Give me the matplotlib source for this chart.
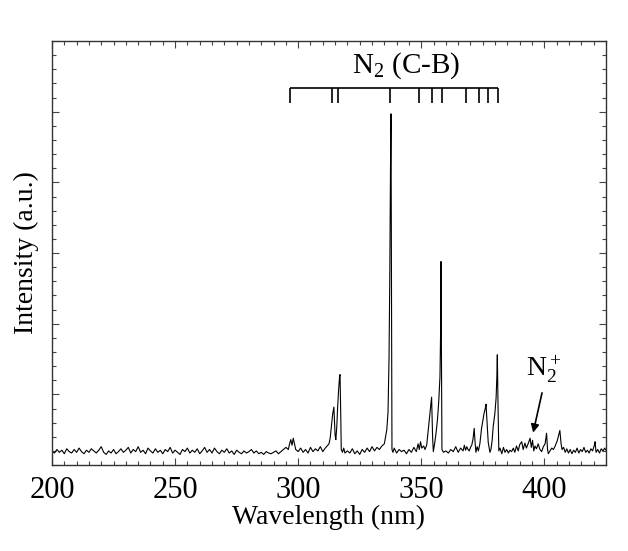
import numpy as np
import matplotlib.pyplot as plt
from matplotlib.ticker import MultipleLocator

plt.rcParams['font.family'] = ['Liberation Serif', 'DejaVu Serif']
plt.rcParams['mathtext.fontset'] = 'custom'
plt.rcParams['mathtext.rm'] = 'Liberation Serif'
plt.rcParams['mathtext.it'] = 'Liberation Serif:italic'

# baseline 200-295 nm, 1 nm step
base_wl = np.arange(200, 296, 1.0)
base_int = [0.20, 0.17, 0.22, 0.18, 0.21, 0.16, 0.23, 0.19, 0.17, 0.22,
            0.18, 0.24, 0.19, 0.16, 0.21, 0.18, 0.23, 0.20, 0.17, 0.21,
            0.26, 0.18, 0.15, 0.20, 0.17, 0.22, 0.16, 0.19, 0.23, 0.18,
            0.21, 0.25, 0.17, 0.22, 0.19, 0.26, 0.18, 0.21, 0.16, 0.24,
            0.20, 0.17, 0.23, 0.18, 0.21, 0.16, 0.22, 0.19, 0.25, 0.17,
            0.21, 0.18, 0.15, 0.22, 0.19, 0.24, 0.17, 0.21, 0.18, 0.23,
            0.16, 0.20, 0.25, 0.18, 0.22, 0.17, 0.24, 0.19, 0.16, 0.21,
            0.18, 0.23, 0.17, 0.20, 0.15, 0.21, 0.18, 0.16, 0.20, 0.17,
            0.19, 0.22, 0.17, 0.20, 0.16, 0.18, 0.15, 0.19, 0.17, 0.16,
            0.18, 0.20, 0.16, 0.19, 0.22, 0.25]

# band region 296-425 nm
band_wl = [296.0, 296.5, 297.0, 297.5, 298.0, 298.5, 299.0, 300, 301, 302,
           303, 304, 305, 306, 307, 308, 309, 310, 311, 312,
           312.5, 313.0, 313.5, 314.0, 314.5, 315.0, 315.3, 315.7, 316.0, 316.4,
           316.8, 317.0, 317.3, 317.5, 318.0, 318.5,
           319, 320, 321, 322, 323, 324, 325, 326, 327, 328,
           329, 330, 331, 332, 333, 334, 335, 336.0, 336.5, 336.9,
           337.2, 337.5, 337.7, 338.1, 338.5,
           339, 340, 341, 342, 343, 344, 345, 346, 347, 348,
           348.7, 349.2, 349.7, 350.2, 351.0, 351.5, 352.2, 352.7, 353.2, 353.7,
           354.2, 354.6, 354.9, 355.5, 356.0, 356.6, 357.1, 357.6, 357.9, 358.0,
           358.2, 358.4,
           359, 360, 361, 362, 363, 364, 365, 366, 367, 367.5, 368, 368.5,
           369, 369.5, 370, 370.5, 371.0, 371.5, 371.9, 372.2, 372.7, 373.2,
           373.8, 374.5, 375.0, 375.5, 376.0, 376.3, 376.8, 377.2, 377.9,
           378.3, 378.8, 379.2, 379.9, 380.4, 380.7, 380.9, 381.2, 381.5,
           382.0, 382.7, 383.4, 384.0, 384.7, 385.4, 386.0, 386.7, 387.4, 388.0,
           388.7, 389.4, 390.0, 390.8, 391.4, 392.1, 392.7, 393.4, 394.2, 394.7,
           395.2, 395.7, 396.2, 396.8, 397.5, 398.2, 398.9, 399.6, 400.3, 400.9,
           401.3, 401.6, 402.3, 403.0, 403.7, 404.4, 405.2, 405.8, 406.3, 406.8,
           407.2, 407.8, 408.5, 409.1, 409.8, 410.5, 411.2, 411.9, 412.6, 413.3,
           414.0, 414.7, 415.4, 416.1, 416.8, 417.5, 418.2, 418.9, 419.6, 420.3,
           420.6, 421.0, 421.7, 422.4, 423.1, 423.8, 424.5, 425.0]
band_int = [0.22, 0.30, 0.36, 0.28, 0.38, 0.30, 0.22, 0.19, 0.24, 0.18,
            0.22, 0.17, 0.25, 0.19, 0.23, 0.20, 0.26, 0.19, 0.24, 0.28,
            0.30, 0.38, 0.55, 0.72, 0.82, 0.42, 0.36, 0.55, 0.80, 1.05,
            1.25, 1.28, 0.70, 0.22, 0.18, 0.24,
            0.17, 0.20, 0.17, 0.23, 0.16, 0.20, 0.15, 0.22, 0.18, 0.24,
            0.19, 0.26, 0.20, 0.25, 0.22, 0.27, 0.30, 0.50, 0.75, 1.50,
            2.60, 4.20, 4.97, 0.22, 0.18,
            0.24, 0.17, 0.22, 0.19, 0.21, 0.16, 0.22, 0.18, 0.25, 0.19,
            0.30, 0.22, 0.33, 0.24, 0.27, 0.22, 0.28, 0.45, 0.63, 0.80,
            0.96, 0.40, 0.19, 0.32, 0.45, 0.65, 0.90, 1.25, 2.00, 2.88,
            1.50, 0.22,
            0.18, 0.20, 0.17, 0.22, 0.19, 0.26, 0.18, 0.24, 0.20, 0.28, 0.21, 0.26,
            0.22, 0.20, 0.25, 0.28, 0.36, 0.52, 0.30, 0.18, 0.26, 0.20,
            0.30, 0.52, 0.63, 0.73, 0.80, 0.86, 0.55, 0.32, 0.18,
            0.22, 0.35, 0.54, 0.73, 0.95, 1.24, 1.56, 0.80, 0.20,
            0.24, 0.16, 0.25, 0.18, 0.22, 0.17, 0.21, 0.19, 0.24, 0.18,
            0.27, 0.20, 0.29, 0.33, 0.22, 0.31, 0.24, 0.30, 0.38, 0.25,
            0.35, 0.20, 0.27, 0.23, 0.30, 0.22, 0.19, 0.26, 0.30, 0.45,
            0.22, 0.16, 0.20, 0.24, 0.22, 0.27, 0.34, 0.42, 0.49, 0.30,
            0.22, 0.25, 0.18, 0.23, 0.17, 0.22, 0.16, 0.21, 0.18, 0.24,
            0.17, 0.22, 0.19, 0.25, 0.18, 0.21, 0.17, 0.23, 0.20, 0.28,
            0.33, 0.18, 0.22, 0.17, 0.23, 0.20, 0.24, 0.21]

wavelength = np.concatenate([base_wl, band_wl])
intensity = np.concatenate([base_int, band_int])

# N2 (C-B) band head markers
n2_bands = [296.7, 313.6, 316.3, 337.3, 349.1, 354.5, 358.3, 368.2, 373.4, 377.1, 381.0]
bracket_top = 5.33
bracket_bot = 5.12

fig = plt.figure(figsize=(6.28, 5.51), dpi=100)
ax = fig.add_axes([0.0828, 0.156, 0.882, 0.7695])

ax.plot(wavelength, intensity, color='black', lw=0.8)

ax.hlines(bracket_top, n2_bands[0], n2_bands[-1], color='black', lw=1.2)
ax.vlines(n2_bands, bracket_bot, bracket_top, color='black', lw=1.2)
ax.text((n2_bands[0] + n2_bands[-1]) / 2 + 5, bracket_top + 0.1, r'N$_\mathrm{2}$ (C-B)',
        ha='center', va='bottom', fontsize=21)

ax.annotate('', xy=(395.2, 0.42), xytext=(399.3, 1.06),
            arrowprops=dict(arrowstyle='-|>', color='black', lw=1.2, mutation_scale=12))
ax.text(399.8, 1.13, r'N$_\mathrm{2}^+$', ha='center', va='bottom', fontsize=20)

ax.set_xlim(200, 425)
ax.set_ylim(0, 6)
ax.xaxis.set_major_locator(MultipleLocator(50))
ax.xaxis.set_minor_locator(MultipleLocator(5))
ax.yaxis.set_major_locator(MultipleLocator(1))
ax.yaxis.set_minor_locator(MultipleLocator(0.2))
ax.tick_params(which='both', direction='in', top=True, right=True, color='#444444', width=0.8)
ax.tick_params(which='major', length=5)
ax.tick_params(which='minor', length=3)
ax.tick_params(axis='x', labelsize=22, pad=8)
ax.set_yticklabels([])
for s in ax.spines.values():
    s.set_linewidth(1.0)
    s.set_color('#333333')

ax.set_xlabel('Wavelength (nm)', fontsize=20, labelpad=0)
ax.set_ylabel('Intensity (a.u.)', fontsize=20, labelpad=6)

plt.savefig('out.png', dpi=100)
plt.close()
